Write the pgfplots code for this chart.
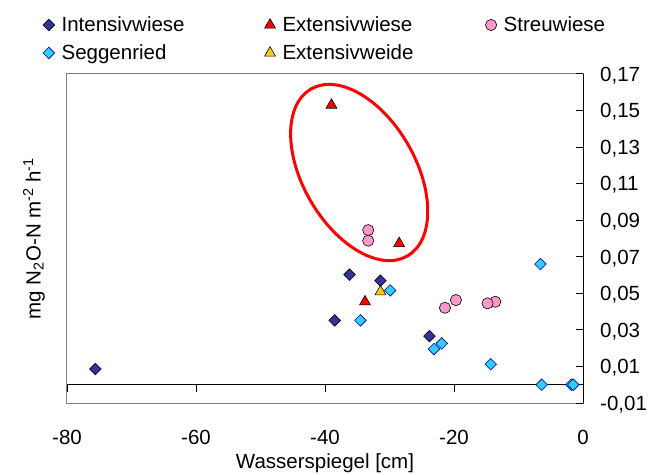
\documentclass[border=0pt]{standalone}
\usepackage{fontspec}
\setmainfont{Liberation Sans}
\usepackage{pgfplots}
\pgfplotsset{compat=1.18}
\definecolor{cInt}{HTML}{333399}
\definecolor{cSeg}{HTML}{33CCFF}
\definecolor{cSegE}{HTML}{000099}
\definecolor{cExd}{HTML}{FFCC00}
\definecolor{cStr}{HTML}{FF99CC}
\definecolor{cBox}{HTML}{808080}
\begin{document}
\fontsize{20.5bp}{24bp}\selectfont
\begin{tikzpicture}
\pgfplotsset{
  common/.style={
    width=516bp, height=329bp, scale only axis,
    xmin=-80, xmax=0, ymin=-0.01, ymax=0.17,
  },
  /pgf/number format/assume math mode=true,
}
% box, x tick labels, axis labels
\begin{axis}[common, name=ax,
  axis line style={cBox, line width=1bp},
  xtick={-80,-60,-40,-20,0}, ytick=\empty,
  xtick style={draw=none},
  xticklabel style={anchor=center, inner sep=0pt, yshift=-34bp},
  xlabel={Wasserspiegel [cm]},
  xlabel style={at={(axis description cs:0.5,0)}, anchor=center, inner sep=0pt, yshift=-60bp},
  ylabel={mg N\textsubscript{2}O-N m\textsuperscript{-2} h\textsuperscript{-1}},
  ylabel style={at={(axis description cs:-0.064,0.5)}, anchor=center, inner sep=0pt},
]
\end{axis}
% zero line, right axis, data
\begin{axis}[common,
  axis x line=middle, axis y line=right,
  axis line style={black, line width=1bp, -},
  xtick={-80,-60,-40,-20,0}, xticklabels={},
  xtick align=outside,
  ytick={-0.01,0.01,0.03,0.05,0.07,0.09,0.11,0.13,0.15,0.17},
  ytick align=inside,
  major tick length=7.5bp,
  tick style={black, line width=1bp},
  yticklabel style={anchor=base west, inner sep=0pt, xshift=17bp, yshift=-7.3bp,
    /pgf/number format/.cd, fixed, fixed zerofill, precision=2, use comma, assume math mode=true},
  legend columns=3,
  legend style={draw=none, fill=none, inner sep=0pt, outer sep=0pt,
    at={(axis description cs:0,1)}, anchor=north west, xshift=-24bp, yshift=57bp,
    cells={anchor=west}, nodes={inner sep=0pt, text height=15bp, text depth=4bp},
    row sep=9bp,
    /tikz/every odd column/.append style={column sep=7bp},
    /tikz/every even column/.append style={column sep=0bp}},
  legend image code/.code={\draw[#1] plot coordinates {(0bp,1.5bp)};},
]
\addplot[only marks, mark=square*, mark size=4.1bp,
  mark options={rotate=45, fill=cInt, draw=black, line width=0.6bp}]
  coordinates {(-75.6,0.0086) (-38.5,0.0352) (-36.2,0.0602) (-31.4,0.0569) (-23.8,0.0266)};
\addlegendentry{\makebox[203bp][l]{Intensivwiese}}
\addplot[only marks, mark=triangle*, mark size=6.3bp,
  mark options={fill=red, draw=black, line width=0.6bp}]
  coordinates {(-39.0,0.153) (-28.5,0.0773) (-33.8,0.0454)};
\addlegendentry{\makebox[203bp][l]{Extensivwiese}}
\addplot[only marks, mark=*, mark size=5.6bp,
  mark options={fill=cStr, draw=black, line width=0.6bp}]
  coordinates {(-33.3,0.0846) (-33.3,0.0788) (-21.4,0.0421) (-19.7,0.0463) (-13.6,0.0454) (-14.8,0.0445)};
\addlegendentry{\makebox[130bp][l]{Streuwiese}}
\addplot[only marks, mark=square*, mark size=4.1bp,
  mark options={rotate=45, fill=cSeg, draw=cSegE, line width=0.6bp}]
  coordinates {(-34.5,0.0352) (-29.9,0.0516) (-23.1,0.0195) (-21.9,0.0226) (-14.3,0.0112) (-6.6,0.066) (-6.4,0) (-1.8,0) (-1.5,0)};
\addlegendentry{\makebox[203bp][l]{Seggenried}}
\addplot[only marks, mark=triangle*, mark size=6.3bp,
  mark options={fill=cExd, draw=black, line width=0.6bp}]
  coordinates {(-31.4,0.0509)};
\addlegendentry{\makebox[203bp][l]{Extensivweide}}
\draw[red, line width=3bp, rotate around={-60:(axis cs:-34.7,0.1161)}]
  (axis cs:-34.7,0.1161) ellipse [x radius=96.4bp, y radius=56.3bp];
\end{axis}
\pgfresetboundingbox
\path[use as bounding box] ([shift={(-67bp,-72bp)}]ax.south west) rectangle ([shift={(581bp,403bp)}]ax.south west);
\end{tikzpicture}
\end{document}
